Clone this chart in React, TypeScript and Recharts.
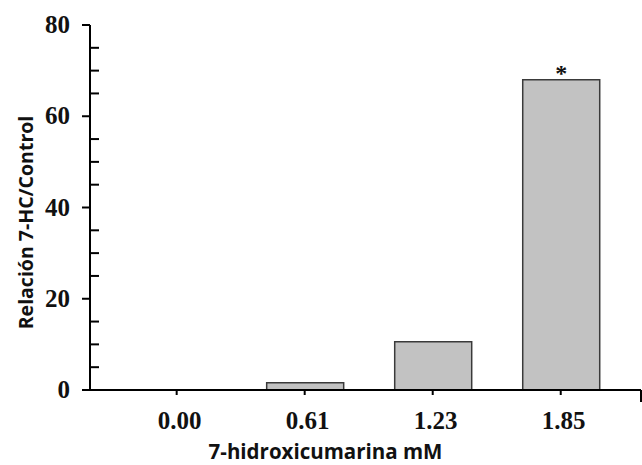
import React from "react";
import { BarChart, Bar, XAxis, YAxis, LabelList, Label } from "recharts";

const categories = ["0.00", "0.61", "1.23", "1.85"];
const ratios = [0, 1.6, 10.6, 68];
const significance = ["", "", "", "*"];
const yTicks = [0, 5, 10, 15, 20, 25, 30, 35, 40, 45, 50, 55, 60, 65, 70, 75, 80];
const yLabelled = [0, 20, 40, 60, 80];

const X_MIN = -0.677;
const X_MAX = 3.627;

const data = categories.map((c, i) => ({
  idx: i,
  label: c,
  value: ratios[i],
  sig: significance[i],
}));

const xTicks = [...categories.map((_, i) => i), X_MAX];

const serif = "'Liberation Serif', 'Times New Roman', serif";
const sans = "'Open Sans', 'Noto Sans', sans-serif";

const YTick = (props: any) => {
  const { x, y, payload } = props;
  const v = payload.value;
  const major = yLabelled.includes(v);
  return (
    <g>
      {major ? (
        <line x1={x - 8} x2={x} y1={y} y2={y} stroke="#000" strokeWidth={2} />
      ) : (
        <line x1={x} x2={x + 9} y1={y} y2={y} stroke="#000" strokeWidth={2} />
      )}
      {major && (
        <text x={x - 20} y={y + 8} textAnchor="end" fontFamily={serif} fontWeight="bold" fontSize={25} fill="#111">
          {v}
        </text>
      )}
    </g>
  );
};

const XTick = (props: any) => {
  const { x, y, payload } = props;
  const v = payload.value;
  const isEnd = v === X_MAX;
  const lbl = isEnd ? "" : categories[v];
  return (
    <g>
      <line x1={x} x2={x} y1={y} y2={y + (isEnd ? 12 : 5)} stroke="#000" strokeWidth={2} />
      {lbl && (
        <text x={x + 3} y={y + 39} textAnchor="middle" fontFamily={serif} fontWeight="bold" fontSize={25} fill="#111">
          {lbl}
        </text>
      )}
    </g>
  );
};

export default function App() {
  return (
    <div style={{ position: "absolute", left: 0, top: 0, background: "#fff" }}>
      <BarChart
        width={642}
        height={465}
        data={data}
        margin={{ top: 25, right: 1, bottom: 0, left: 0 }}
      >
        <XAxis
          dataKey="idx"
          type="number"
          domain={[X_MIN, X_MAX]}
          ticks={xTicks}
          allowDataOverflow
          height={75}
          axisLine={{ stroke: "#000", strokeWidth: 2 }}
          tickLine={false}
          tickSize={0}
          tickMargin={0}
          tick={<XTick />}
          interval={0}
        >
          <Label
            content={(p: any) => {
              const vb = p.viewBox;
              return (
                <text
                  x={vb.x + vb.width / 2 - 40}
                  y={459}
                  textAnchor="middle"
                  fontFamily={sans}
                  fontWeight="bold"
                  fontSize={20.5}
                  fill="#111"
                >
                  7-hidroxicumarina mM
                </text>
              );
            }}
          />
        </XAxis>
        <YAxis
          type="number"
          domain={[0, 80]}
          ticks={yTicks}
          width={90}
          interval={0}
          axisLine={{ stroke: "#000", strokeWidth: 2 }}
          tickLine={false}
          tickSize={0}
          tickMargin={0}
          tick={<YTick />}
        >
          <Label
            content={(p: any) => {
              const vb = p.viewBox;
              const cy = vb.y + vb.height / 2 + 15;
              return (
                <text
                  x={33}
                  y={cy}
                  transform={`rotate(-90 33 ${cy})`}
                  textAnchor="middle"
                  fontFamily={sans}
                  fontWeight="bold"
                  fontSize={19.5}
                  fill="#111"
                >
                  Relación 7-HC/Control
                </text>
              );
            }}
          />
        </YAxis>
        <Bar
          dataKey="value"
          barSize={77}
          fill="#c2c2c2"
          stroke="#3a3a3a"
          strokeWidth={1.5}
          isAnimationActive={false}
        >
          <LabelList
            dataKey="sig"
            content={(p: any) =>
              p.value ? (
                <text
                  x={p.x + p.width / 2}
                  y={p.y + 1}
                  textAnchor="middle"
                  fontFamily={serif}
                  fontWeight="bold"
                  fontSize={24}
                  fill="#111"
                >
                  {p.value}
                </text>
              ) : null
            }
          />
        </Bar>
      </BarChart>
    </div>
  );
}
